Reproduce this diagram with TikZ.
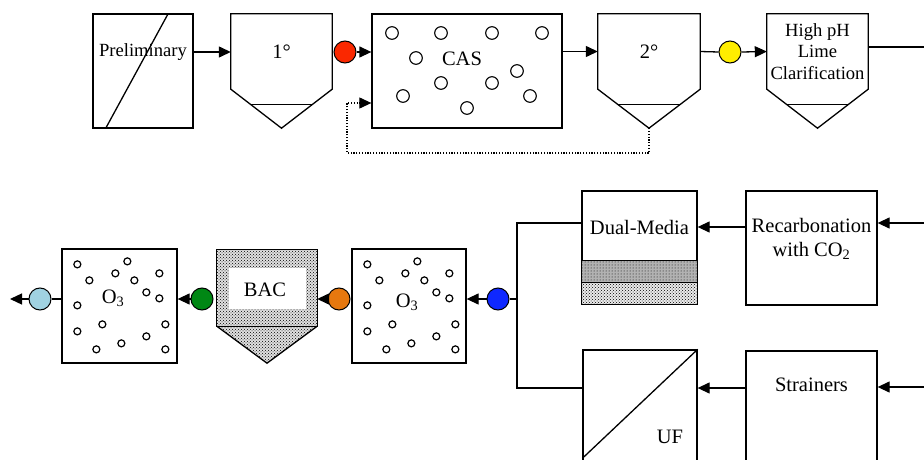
\documentclass[tikz,border=0pt]{standalone}
\usepackage{fontspec}
\setmainfont{Liberation Serif}
\usetikzlibrary{arrows.meta,calc,patterns}
\definecolor{redc}{RGB}{250,40,0}
\definecolor{yelc}{RGB}{255,238,0}
\definecolor{orac}{RGB}{230,120,15}
\definecolor{grnc}{RGB}{0,135,20}
\definecolor{bluc}{RGB}{15,40,255}
\definecolor{lbc}{RGB}{160,210,225}
\tikzset{
  ln/.style={line width=1.3pt, draw=black},
  arr/.style={ln, -{Triangle[length=12pt,width=11pt]}},
  dotarr/.style={line width=1.1pt, dash pattern=on 1.2pt off 1.6pt, -{Triangle[length=12pt,width=11pt]}},
  box/.style={ln, rectangle, inner sep=0pt, fill=white},
  area/.style={rectangle, inner sep=0pt},
  dotnode/.style={circle, draw, line width=1pt, minimum size=22pt, inner sep=0pt},
  txt/.style={font=\fontsize{20.5}{24}\selectfont, inner sep=0pt, align=center},
  txts/.style={font=\fontsize{18.6}{21.5}\selectfont, inner sep=0pt, align=center},
  bub/.style={line width=1.1pt},
  sbub/.style={line width=1.2pt},
  stip/.style={pattern=crosshatch dots, pattern color=black},
}
\newcommand\clarifshape[1]{%
  \coordinate (#1apex) at ($(#1.south)+(0,39)$);
  \draw[ln] (#1apex) -- (#1.south west) |- (#1.north east) -- (#1.south east) -- cycle;
  \draw[ln] ($(#1.south west)!0.385!(#1apex)$) -- ($(#1.south east)!0.385!(#1apex)$);
}
\begin{document}
\begin{tikzpicture}[x=1pt,y=-1pt]
\useasboundingbox (0,0) rectangle (924,460);
\fill[white] (0,0) rectangle (924,460);
\clip (0,0) rectangle (924,460);

% ---------- top row ----------
\node[box, minimum width=100pt, minimum height=114pt] (prelim) at (143,71) {};
\draw[ln] ($(prelim.north west)!0.75!(prelim.north east)$) -- ($(prelim.south west)!0.13!(prelim.south east)$);
\node[txts] (preltxt) at (143,52) {Preliminary};

\node[area, minimum width=101pt, minimum height=75pt, txt] (c1) at (281.5,51.5) {1°};
\clarifshape{c1}

\node[dotnode, fill=redc] (red) at (345,52) {};

\node[box, minimum width=190pt, minimum height=114pt] (cas) at (467,71) {};
\foreach \p in {(392,33),(441,33),(492,33),(542,33),(416,58),(517,71),(441,83),(492,83),(403,96),(530,96),(467,108)}
  \draw[bub] \p circle (6.3pt);
\node[txt] (castxt) at (462,59) {CAS};

\node[area, minimum width=102pt, minimum height=75pt, txt] (c2) at (649,51.5) {2°};
\clarifshape{c2}

\node[dotnode, fill=yelc] (yel) at (730,52) {};

\node[area, minimum width=101pt, minimum height=75pt, txts] (c3) at (817.5,51.5) {High pH\\Lime\\Clarification};
\clarifshape{c3}

\draw[arr] (prelim.east |- preltxt) -- (c1.west |- preltxt);
\draw[arr] (red.east) -- (red.east -| cas.west);
\draw[arr] (cas.east |- c2) -- (c2.west);
\draw[ln] (c2.east) -- (yel.west);
\draw[arr] (yel.east) -- (c3.west);
\coordinate (topout) at (924,47);
\draw[ln] (c3.east |- topout) -- (topout);
\coordinate (retc) at (347,153);
\draw[dotarr] (c2apex) |- (retc) |- ($(cas.west)+(0,32)$);

% ---------- bottom row ----------
\node[box, minimum width=131pt, minimum height=114pt] (rc) at (811.5,248) {};
\node[txt] (rctxt) at (811.5,239) {Recarbonation\\with CO\textsubscript{2}};

\node[box, minimum width=115pt, minimum height=113pt] (du) at (639.5,247.5) {};
\fill[black!30] ($(du.south west)+(0,-44)$) rectangle ($(du.south east)+(0,-22)$);
\fill[pattern=dots, pattern color=black] ($(du.south west)+(0,-44)$) rectangle ($(du.south east)+(0,-22)$);
\fill[black!8] ($(du.south west)+(0,-22)$) rectangle (du.south east);
\fill[stip] ($(du.south west)+(0,-22)$) rectangle (du.south east);
\draw[ln] ($(du.south west)+(0,-44)$) rectangle ($(du.south east)+(0,-22)$);
\draw[ln] (du.south west) rectangle (du.north east);
\node[txt] (dutxt) at (639.5,227) {Dual-Media};

\node[box, minimum width=131pt, minimum height=114pt] (st) at (811.5,408) {};
\node[txt] (sttxt) at (811.5,385) {Strainers};

\node[box, minimum width=114pt, minimum height=114pt] (uf) at (640,407) {};
\draw[ln] (uf.north east) -- ($(uf.north west)+(0,109)$);
\node[txt] (uftxt) at (670,437) {UF};

\node[box, minimum width=114pt, minimum height=114pt] (oz2) at (409,306) {};
\node[box, minimum width=115pt, minimum height=114pt] (oz1) at (119.5,306) {};
\foreach \b in {oz1,oz2}
  \foreach \dx/\dy in {16/16,66/13,28/32,54/25,73/32,98/25,85/44,98/50,16/57,41/76,104/76,16/83,85/88,60/95,35/101,104/101}
    \draw[sbub] ($(\b.north west)+(\dx,\dy)$) circle (3.5pt);
\node[txt] (oz2txt) at (407,302) {O\textsubscript{3}};
\node[txt] (oz1txt) at (113,298) {O\textsubscript{3}};

\node[area, minimum width=100pt, minimum height=76pt] (bac) at (267,288) {};
\coordinate (bacapex) at ($(bac.south)+(0,37)$);
\fill[black!12] (bac.south west) rectangle (bac.north east);
\fill[black!12] (bac.south west) -- (bacapex) -- (bac.south east) -- cycle;
\fill[stip] (bac.south west) rectangle (bac.north east);
\fill[stip] (bac.south west) -- (bacapex) -- (bac.south east) -- cycle;
\draw[ln] (bac.south west) -- (bacapex) -- (bac.south east);
\draw[ln] (bac.south west) rectangle (bac.north east);
\fill[white] (229,268) rectangle (306,309);
\node[txt] (bactxt) at (265,290) {BAC};

\node[dotnode, fill=bluc] (blu) at (498,299) {};
\node[dotnode, fill=orac] (ora) at (339,299) {};
\node[dotnode, fill=grnc] (grn) at (202,299) {};
\node[dotnode, fill=lbc] (lb) at (40,299) {};

\coordinate (inR) at (924,223);
\coordinate (inS) at (924,387);
\coordinate (jt) at (517,223);
\coordinate (jb) at (517,388);
\coordinate (outL) at (10,299);
\draw[arr] (inR) -- (inR -| rc.east);
\draw[arr] (inS) -- (inS -| st.east);
\draw[arr] (rc.west |- dutxt) -- (du.east |- dutxt);
\draw[arr] (st.west |- jb) -- (uf.east |- jb);
\draw[ln] (du.west |- jt) -- (jt) -- (jb) -- (jb -| uf.west);
\draw[ln] (jt |- blu) -- (blu.east);
\draw[arr] (blu.west) -- (blu.west -| oz2.east);
\draw[arr] (ora.west) -- (ora.west -| bac.east);
\draw[arr] (grn.west) -- (grn.west -| oz1.east);
\draw[ln] (lb.east) -- (lb.east -| oz1.west);
\draw[arr] (lb.west) -- (outL);
\end{tikzpicture}
\end{document}
